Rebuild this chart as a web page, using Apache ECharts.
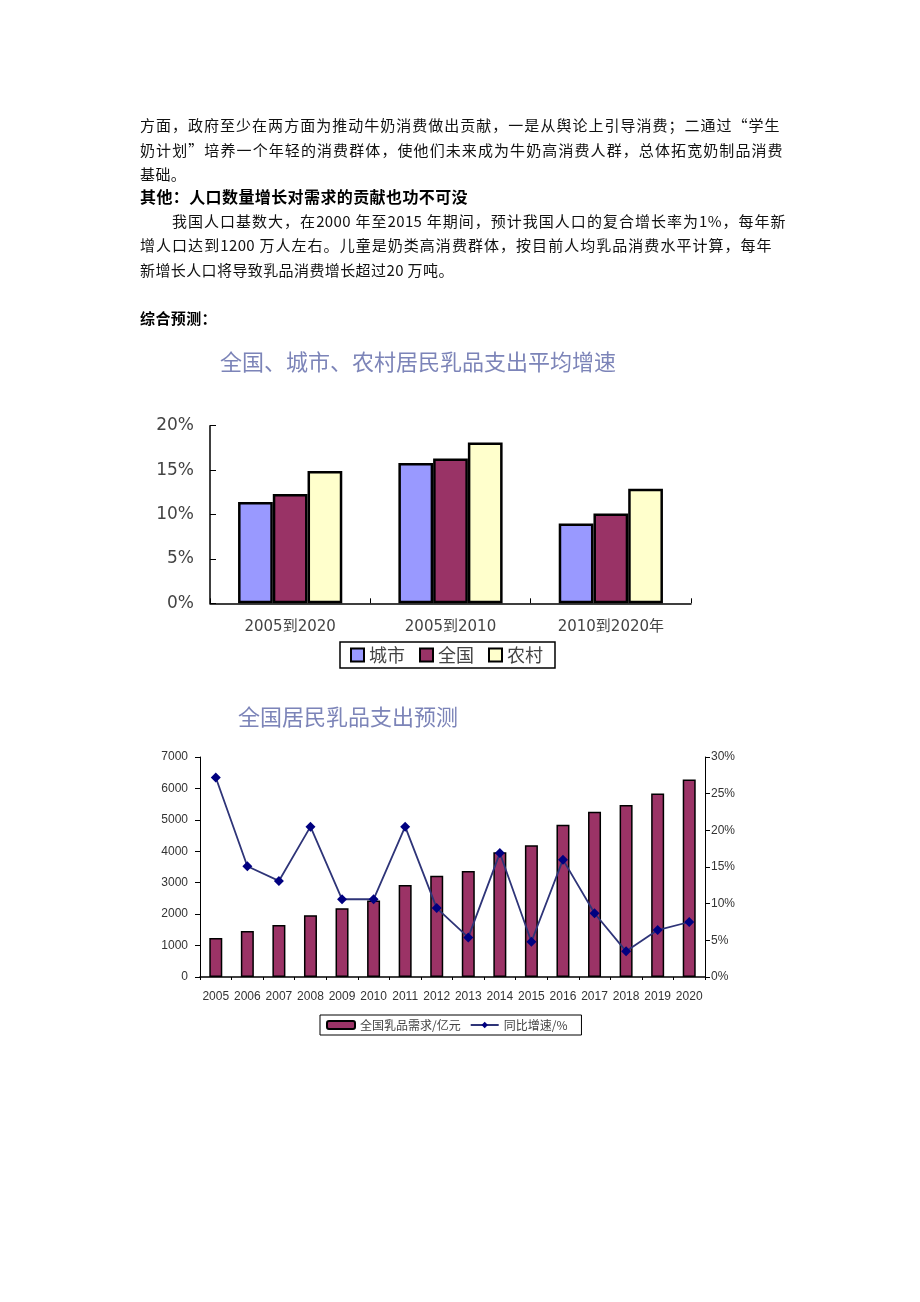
<!DOCTYPE html>
<html>
<head>
<meta charset="utf-8">
<script src="https://cdn.jsdelivr.net/npm/echarts@6/dist/echarts.min.js"></script>
<style>
  html, body { margin: 0; padding: 0; background: #fff; }
  #page { position: relative; width: 920px; height: 1302px; overflow: hidden; }
  #chart { position: absolute; left: 0; top: 0; width: 920px; height: 1302px; }
  .ln { position: absolute; font-family: "Noto Sans CJK SC", sans-serif; font-size: 15px; line-height: 24px; color: #111; white-space: nowrap; letter-spacing: 0.4px; }
  .j { text-align: justify; text-align-last: justify; white-space: normal; }
  .b { font-weight: bold; color: #000; }
</style>
</head>
<body>
<div id="page">
  <div id="chart"></div>
  <div class="ln j" style="left:140px; top:113px; width:640px;">方面，政府至少在两方面为推动牛奶消费做出贡献，一是从舆论上引导消费；二通过“学生</div>
  <div class="ln j" style="left:140px; top:138px; width:643px;">奶计划”培养一个年轻的消费群体，使他们未来成为牛奶高消费人群，总体拓宽奶制品消费</div>
  <div class="ln" style="left:140px; top:162px;">基础。</div>
  <div class="ln b" style="left:140px; top:184px; font-size:16px; letter-spacing:0.4px;">其他：人口数量增长对需求的贡献也功不可没</div>
  <div class="ln j" style="left:172px; top:209px; width:614px;">我国人口基数大，在2000 年至2015 年期间，预计我国人口的复合增长率为1%，每年新</div>
  <div class="ln j" style="left:140px; top:233px; width:632px;">增人口达到1200 万人左右。儿童是奶类高消费群体，按目前人均乳品消费水平计算，每年</div>
  <div class="ln" style="left:140px; top:258px;">新增长人口将导致乳品消费增长超过20 万吨。</div>
  <div class="ln b" style="left:140px; top:306px;">综合预测：</div>
</div>
<script>
// ---- Chart 1 data ----
const periods = ['2005到2020', '2005到2010', '2010到2020年'];
const urban = [11.4, 15.8, 9.0];
const national = [12.3, 16.3, 10.1];
const rural = [14.9, 18.1, 12.9];

// ---- Chart 2 data ----
const years = ['2005','2006','2007','2008','2009','2010','2011','2012','2013','2014','2015','2016','2017','2018','2019','2020'];
const demand = [1238, 1460, 1651, 1968, 2190, 2432, 2930, 3225, 3374, 3968, 4190, 4845, 5257, 5470, 5841, 6286];
const growth = [27.2, 15.1, 13.1, 20.5, 10.6, 10.6, 20.5, 9.4, 5.4, 16.9, 4.8, 16.0, 8.7, 3.5, 6.4, 7.5];

const chart = echarts.init(document.getElementById('chart'), null, { renderer: 'canvas' });
const titleStyle = { fontFamily: '"Noto Sans CJK SC", sans-serif', fontSize: 22, fontWeight: 'normal', color: '#7c84b8' };
const axisLabel1 = { fontFamily: '"DejaVu Sans", "Noto Sans CJK SC", sans-serif', color: '#444' };

const option = {
  animation: false,
  title: [
    { text: '全国、城市、农村居民乳品支出平均增速', left: 215, top: 346, textStyle: titleStyle },
    { text: '全国居民乳品支出预测', left: 233, top: 701, textStyle: titleStyle }
  ],
  legend: [
    {
      data: ['城市', '全国', '农村'],
      left: 340, top: 642,
      orient: 'horizontal',
      itemWidth: 13, itemHeight: 13, itemGap: 14,
      padding: [4, 12, 4, 10],
      borderColor: '#000', borderWidth: 1.5,
      icon: 'rect',
      textStyle: { fontFamily: '"Noto Sans CJK SC", sans-serif', fontSize: 18, color: '#444' }
    },
    {
      data: ['全国乳品需求/亿元', '同比增速/%'],
      left: 320, top: 1015,
      itemWidth: 28, itemHeight: 8, itemGap: 9,
      padding: [4, 14, 4, 6],
      borderColor: '#000', borderWidth: 1,
      textStyle: { fontFamily: '"Noto Sans CJK SC", sans-serif', fontSize: 12, color: '#444' }
    }
  ],
  grid: [
    { left: 210, right: 229, top: 425.7, bottom: 698.7, containLabel: false },
    { left: 200, right: 215, top: 757, bottom: 325, containLabel: false }
  ],
  xAxis: [
    {
      type: 'category', gridIndex: 0, data: periods,
      axisLine: { lineStyle: { color: '#000', width: 1.5 } },
      axisTick: { show: true, inside: true, length: 5, lineStyle: { color: '#000' } },
      axisLabel: Object.assign({ fontSize: 15, margin: 16 }, axisLabel1)
    },
    {
      type: 'category', gridIndex: 1, data: years,
      axisLine: { lineStyle: { color: '#000', width: 1.5 } },
      axisTick: { show: true, length: 3, lineStyle: { color: '#000' } },
      axisLabel: { fontFamily: '"Liberation Sans", sans-serif', fontSize: 12, color: '#333', margin: 14, interval: 0 }
    }
  ],
  yAxis: [
    {
      type: 'value', gridIndex: 0, min: 0, max: 20, interval: 5,
      axisLine: { show: true, lineStyle: { color: '#000', width: 1.5 } },
      axisTick: { show: true, inside: true, length: 6, lineStyle: { color: '#000' } },
      splitLine: { show: false },
      axisLabel: Object.assign({ fontSize: 17, margin: 16, formatter: '{value}%' }, axisLabel1)
    },
    {
      type: 'value', gridIndex: 1, min: 0, max: 7000, interval: 1000,
      axisLine: { show: true, lineStyle: { color: '#000', width: 1 } },
      axisTick: { show: true, length: 5, lineStyle: { color: '#000' } },
      splitLine: { show: false },
      axisLabel: { fontFamily: '"Liberation Sans", sans-serif', fontSize: 12, color: '#333', margin: 12,
                   formatter: function (v) { return String(v); } }
    },
    {
      type: 'value', gridIndex: 1, position: 'right', min: 0, max: 30, interval: 5,
      axisLine: { show: true, lineStyle: { color: '#000', width: 1 } },
      axisTick: { show: true, length: 5, lineStyle: { color: '#000' } },
      splitLine: { show: false },
      axisLabel: { fontFamily: '"Liberation Sans", sans-serif', fontSize: 12, color: '#333', margin: 6, formatter: '{value}%' }
    }
  ],
  series: [
    {
      name: '城市', type: 'bar', xAxisIndex: 0, yAxisIndex: 0, data: urban,
      barGap: '0%', barCategoryGap: '35%',
      itemStyle: { color: '#9999ff', borderColor: '#000', borderWidth: 2.5 }
    },
    {
      name: '全国', type: 'bar', xAxisIndex: 0, yAxisIndex: 0, data: national,
      barGap: '0%', barCategoryGap: '35%',
      itemStyle: { color: '#993366', borderColor: '#000', borderWidth: 2.5 }
    },
    {
      name: '农村', type: 'bar', xAxisIndex: 0, yAxisIndex: 0, data: rural,
      barGap: '0%', barCategoryGap: '35%',
      itemStyle: { color: '#ffffcc', borderColor: '#000', borderWidth: 2.5 }
    },
    {
      name: '全国乳品需求/亿元', type: 'bar', xAxisIndex: 1, yAxisIndex: 1, data: demand,
      barWidth: 13,
      itemStyle: { color: '#9b3366', borderColor: '#000', borderWidth: 1.5 }
    },
    {
      name: '同比增速/%', type: 'line', xAxisIndex: 1, yAxisIndex: 2, data: growth,
      symbol: 'diamond', symbolSize: 10,
      lineStyle: { color: '#2e3478', width: 1.8 },
      itemStyle: { color: '#000080' }
    }
  ]
};
chart.setOption(option);
</script>
</body>
</html>
